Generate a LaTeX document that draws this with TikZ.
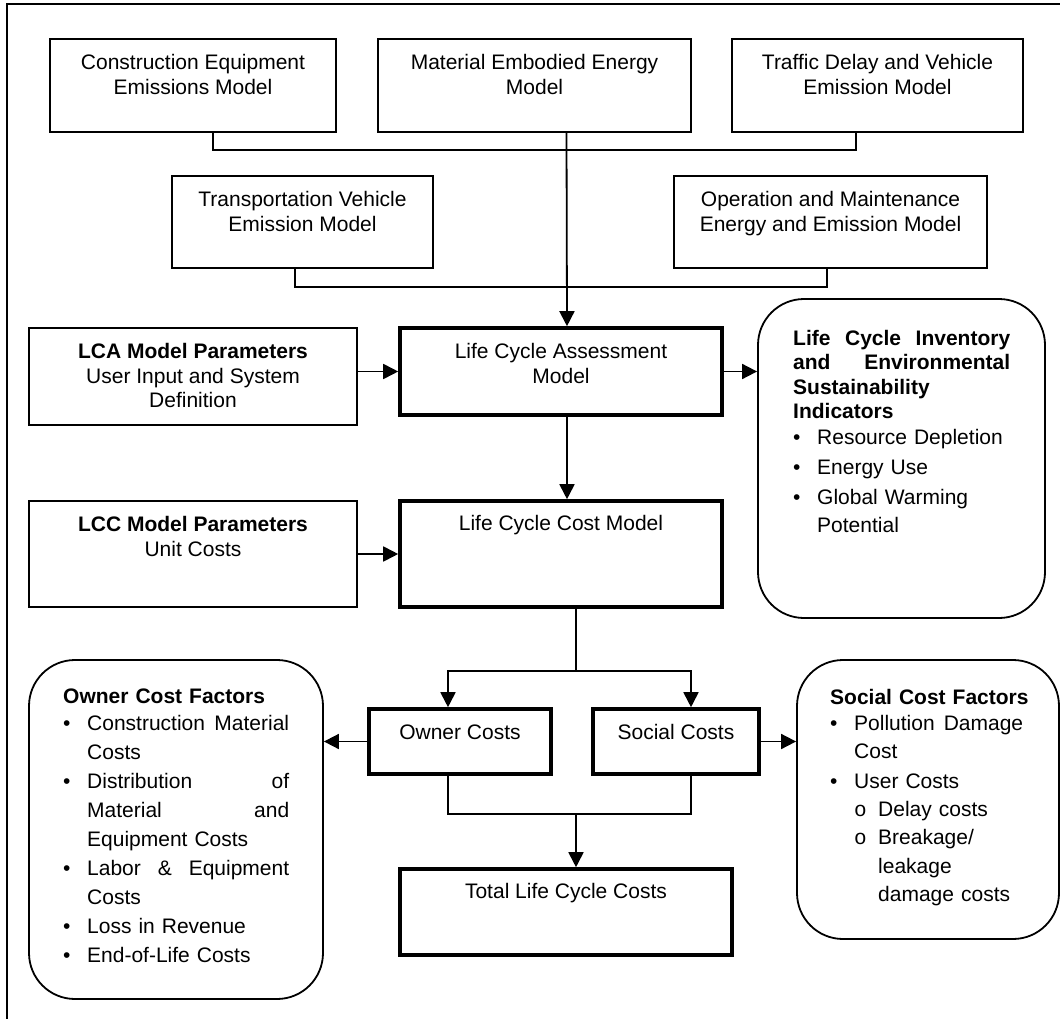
\documentclass[tikz,border=0pt]{standalone}
\usepackage{fontspec}
\setmainfont{Liberation Sans}
\newfontfamily\monofam{Liberation Mono}
\usetikzlibrary{arrows.meta,fit}
\newcommand\itembul{\makebox[24pt][l]{\textbullet}}
\newcommand\subbul{\makebox[24pt][l]{\monofam o}}
\begin{document}
\begin{tikzpicture}[x=1pt,y=-1pt,
  thinbox/.style={draw, line width=1.8pt, inner sep=0pt},
  thickbox/.style={draw, line width=3.6pt, inner sep=0pt},
  roundbox/.style={draw, line width=1.8pt, inner sep=0pt, rounded corners=46pt},
  link/.style={line width=1.8pt},
  arr/.style={line width=1.8pt, -{Triangle[length=15pt,width=15pt]}},
  lbl/.style={anchor=north, inner sep=0pt, align=center, font=\fontsize{21}{24.5}\selectfont},
  list/.style={anchor=north west, inner sep=0pt, align=left},
]
\useasboundingbox (0,0) rectangle (1060,1019);
\fill[white] (0,0) rectangle (1060,1019);

% outer frame
\draw[line width=1.8pt] (7,1030) -- (7,4) -- (1070,4);

% model boxes
\node[thinbox, fit={(50,39)(336,132)}] (ce) {};
\node[thinbox, fit={(378,39)(691,132)}] (me) {};
\node[thinbox, fit={(732,39)(1023,132)}] (td) {};
\node[thinbox, fit={(172,176)(433,268)}] (tv) {};
\node[thinbox, fit={(674,176)(987,268)}] (om) {};
\node[thinbox, fit={(29,328)(357,425)}] (lcap) {};
\node[thinbox, fit={(29,501)(357,607)}] (lccp) {};
\node[thickbox, fit={(400,328)(722,415)}] (lca) {};
\node[thickbox, fit={(400,501)(722,607)}] (lcc) {};
\node[thickbox, fit={(369,709)(551,774)}] (own) {};
\node[thickbox, fit={(593,709)(759,774)}] (soc) {};
\node[thickbox, fit={(400,869)(732,955)}] (tot) {};
\node[roundbox, fit={(758,299)(1045,618)}] (lci) {};
\node[roundbox, fit={(29,660)(323,999)}] (ocf) {};
\node[roundbox, fit={(797,660)(1059,939)}] (scf) {};

% box captions
\node[lbl] (ce-t) at ([yshift=-16pt]ce.north) {Construction Equipment\\Emissions Model};
\node[lbl] (me-t) at ([yshift=-16pt]me.north) {Material Embodied Energy\\Model};
\node[lbl] (td-t) at ([yshift=-16pt]td.north) {Traffic Delay and Vehicle\\Emission Model};
\node[lbl] (tv-t) at ([yshift=-16pt]tv.north) {Transportation Vehicle\\Emission Model};
\node[lbl] (om-t) at ([yshift=-16pt]om.north) {Operation and Maintenance\\Energy and Emission Model};
\node[lbl] (lcap-t) at ([yshift=-16pt]lcap.north) {\textbf{LCA Model Parameters}\\User Input and System\\Definition};
\node[lbl] (lca-t) at ([yshift=-17pt]lca.north) {Life Cycle Assessment\\Model};
\node[lbl] (lccp-t) at ([yshift=-16pt]lccp.north) {\textbf{LCC Model Parameters}\\Unit Costs};
\node[lbl] (lcc-t) at ([yshift=-16pt]lcc.north) {Life Cycle Cost Model};
\node[lbl] (own-t) at ([yshift=-17pt]own.north) {Owner Costs};
\node[lbl] (soc-t) at ([yshift=-17pt]soc.north) {Social Costs};
\node[lbl] (tot-t) at ([yshift=-16pt]tot.north) {Total Life Cycle Costs};

% factor lists (justified lines spread with \hfill)
\node[list, text width=217pt, font=\fontsize{21}{24.5}\selectfont] (lci-t) at (793,330) {%
\makebox[217pt]{\bfseries Life\hfill Cycle\hfill Inventory}\\
\makebox[217pt]{\bfseries and\hfill Environmental}\\
\textbf{Sustainability}\\
\textbf{Indicators}\\[1.5pt]
\itembul Resource Depletion\\[5.5pt]
\itembul Energy Use\\[5.5pt]
\itembul Global Warming\\[3.5pt]
\hspace*{24pt}Potential};

\node[list, text width=226pt, font=\fontsize{21}{29}\selectfont] (ocf-t) at (63,689) {%
\textbf{Owner Cost Factors}\\[-2pt]
\itembul\makebox[202pt]{Construction\hfill Material}\\
\hspace*{24pt}Costs\\
\itembul\makebox[202pt]{Distribution\hfill of}\\
\hspace*{24pt}\makebox[202pt]{Material\hfill and}\\
\hspace*{24pt}Equipment Costs\\
\itembul\makebox[202pt]{Labor\hfill\&\hfill Equipment}\\
\hspace*{24pt}Costs\\
\itembul Loss in Revenue\\
\itembul End-of-Life Costs};

\node[list, text width=200pt, font=\fontsize{21}{28.2}\selectfont] (scf-t) at (830,689) {%
\mbox{\bfseries Social Cost Factors}\\[-2pt]
\itembul\makebox[169pt]{Pollution\hfill Damage}\\
\hspace*{24pt}Cost\\[1.5pt]
\itembul User Costs\\
\hspace*{24pt}\subbul Delay costs\\
\hspace*{24pt}\subbul Breakage/\\
\hspace*{48pt}leakage\\
\hspace*{48pt}damage costs};

% collecting lines of the emission models
\coordinate (busA) at (856,150);
\coordinate (busB) at (827,287);
\draw[link] ([xshift=20pt]ce.south) |- (busA) -- (busA |- td.south);
\draw[link] ([xshift=-7.5pt]tv.south) |- (busB) -- (busB |- om.south);
\draw[arr] ([xshift=32pt]me.south) -- ([xshift=6pt]lca.north);

% assessment and cost models
\draw[arr] (lcap.east |- lca.west) -- (lca.west);
\draw[arr] (lca.east) -- (lci.west |- lca.east);
\draw[arr] ([xshift=6pt]lca.south) -- ([xshift=6pt]lcc.north);
\draw[arr] (lccp.east |- lcc.west) -- (lcc.west);

% split into owner and social costs
\coordinate (split) at (576,671);
\draw[link] ([xshift=15pt]lcc.south) -- (split);
\draw[arr] (split) -| ([xshift=-12pt]own.north);
\draw[arr] (split) -| ([xshift=15pt]soc.north);
\draw[arr] (own.west) -- (ocf.east |- own.west);
\draw[arr] (soc.east) -- (scf.west |- soc.east);

% merge into the total
\coordinate (join) at (576,814);
\draw[link] ([xshift=-12pt]own.south) |- (join) -| ([xshift=15pt]soc.south);
\draw[arr] (join) -- (join |- tot.north);
\end{tikzpicture}
\end{document}
